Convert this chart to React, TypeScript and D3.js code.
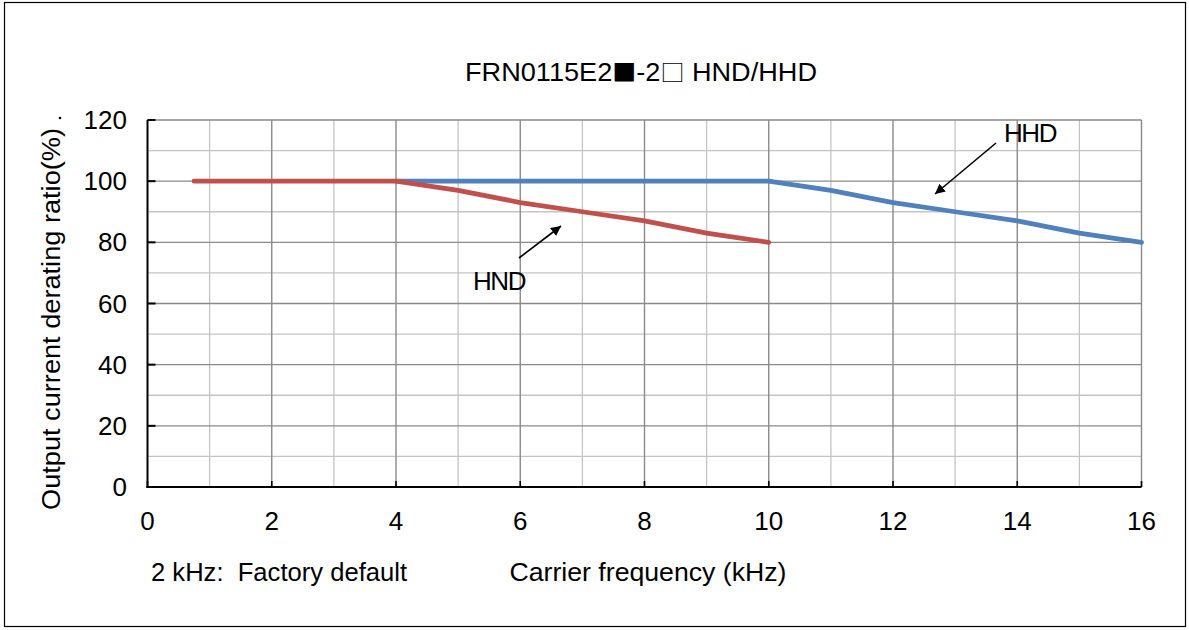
import React from "react";
import * as d3 from "d3";

const hndFreq = [0.75, 4, 5, 6, 7, 8, 9, 10];
const hndRatio = [100, 100, 97, 93, 90, 87, 83, 80];
const hhdFreq = [4, 10, 11, 12, 13, 14, 15, 16];
const hhdRatio = [100, 100, 97, 93, 90, 87, 83, 80];
const xTicks = [0, 2, 4, 6, 8, 10, 12, 14, 16];
const yTicks = [0, 20, 40, 60, 80, 100, 120];
const xMinor = [1, 3, 5, 7, 9, 11, 13, 15];
const yMinor = [10, 30, 50, 70, 90, 110];

const W = 1189;
const H = 630;
const FONT = "'Liberation Sans', Arial, sans-serif";
const CJK = "'Noto Sans CJK JP', sans-serif";
const FS = 26;

export default function App() {
  const x = d3.scaleLinear().domain([0, 16]).range([147.5, 1141.5]);
  const y = d3.scaleLinear().domain([0, 120]).range([487, 120]);
  const line = d3
    .line<[number, number]>()
    .x((d) => x(d[0]))
    .y((d) => y(d[1]));
  const hnd = hndFreq.map((f, i) => [f, hndRatio[i]] as [number, number]);
  const hhd = hhdFreq.map((f, i) => [f, hhdRatio[i]] as [number, number]);

  return (
    <svg
      width={W}
      height={H}
      style={{ position: "absolute", left: 0, top: 0, display: "block" }}
      fontFamily={FONT}
    >
      <defs>
        <marker
          id="ah"
          viewBox="0 0 10 10"
          refX="10"
          refY="5"
          markerWidth="10"
          markerHeight="10"
          markerUnits="userSpaceOnUse"
          orient="auto"
        >
          <path d="M0,0 L10,5 L0,10 z" fill="#000" />
        </marker>
      </defs>
      <rect x={0} y={0} width={W} height={H} fill="#fff" />
      <rect x={4.5} y={2.5} width={1181} height={624} fill="none" stroke="#000" strokeWidth={1.2} />

      <text x={641} y={81} fontSize={FS} textAnchor="middle" fill="#000" textLength={352} lengthAdjust="spacingAndGlyphs">
        FRN0115E2<tspan fontFamily={CJK} fontSize={23}>■</tspan>-2<tspan fontFamily={CJK} fontSize={23}>□</tspan> HND/HHD
      </text>

      {/* minor grid */}
      {xMinor.map((t) => (
        <line key={"xm" + t} x1={x(t)} x2={x(t)} y1={y(0)} y2={y(120)} stroke="#c4c4c4" strokeWidth={1.3} />
      ))}
      {yMinor.map((t) => (
        <line key={"ym" + t} x1={x(0)} x2={x(16)} y1={y(t)} y2={y(t)} stroke="#c4c4c4" strokeWidth={1.3} />
      ))}
      {/* major grid */}
      {xTicks.slice(1).map((t) => (
        <line key={"xM" + t} x1={x(t)} x2={x(t)} y1={y(0)} y2={y(120)} stroke="#8a8a8a" strokeWidth={1.4} />
      ))}
      {yTicks.slice(1).map((t) => (
        <line key={"yM" + t} x1={x(0)} x2={x(16)} y1={y(t)} y2={y(t)} stroke="#8a8a8a" strokeWidth={1.4} />
      ))}

      {/* axes */}
      <line x1={x(0)} x2={x(0)} y1={y(0) + 1} y2={y(120)} stroke="#000" strokeWidth={2} />
      <line x1={x(0) - 1} x2={x(16)} y1={y(0)} y2={y(0)} stroke="#000" strokeWidth={2} />
      {yTicks.map((t) => (
        <line key={"yt" + t} x1={x(0)} x2={x(0) + 8} y1={y(t)} y2={y(t)} stroke="#000" strokeWidth={2} />
      ))}
      {xTicks.map((t) => (
        <line key={"xt" + t} x1={x(t)} x2={x(t)} y1={y(0)} y2={y(0) - 6} stroke="#000" strokeWidth={1.6} />
      ))}

      {yTicks.map((t) => (
        <text key={"yl" + t} x={127} y={y(t) + 9} fontSize={FS} textAnchor="end" fill="#000">
          {t}
        </text>
      ))}
      {xTicks.map((t) => (
        <text key={"xl" + t} x={x(t)} y={530} fontSize={FS} textAnchor="middle" fill="#000">
          {t}
        </text>
      ))}

      <text
        transform={`translate(60,319) rotate(-90)`}
        fontSize={FS}
        textAnchor="middle"
        fill="#000"
        textLength={382}
        lengthAdjust="spacingAndGlyphs"
      >
        Output current derating ratio(%)
      </text>
      <circle cx={60} cy={118} r={1.3} fill="#000" />

      <text x={151} y={581} fontSize={FS} fill="#000" style={{ whiteSpace: "pre" }} textLength={256} lengthAdjust="spacingAndGlyphs">
        {"2 kHz:  Factory default"}
      </text>
      <text x={648} y={581} fontSize={FS} textAnchor="middle" fill="#000" textLength={277} lengthAdjust="spacingAndGlyphs">
        Carrier frequency (kHz)
      </text>

      <path d={line(hhd) || ""} fill="none" stroke="#4F81BD" strokeWidth={4.8} strokeLinecap="round" strokeLinejoin="round" />
      <path d={line(hnd) || ""} fill="none" stroke="#C0504D" strokeWidth={4.8} strokeLinecap="round" strokeLinejoin="round" />

      <line x1={519} y1={258} x2={561} y2={226} stroke="#000" strokeWidth={1.6} markerEnd="url(#ah)" />
      <text x={499} y={290} fontSize={FS} textAnchor="middle" fill="#000" letterSpacing={-1.5}>
        HND
      </text>
      <line x1={996} y1={143} x2={935} y2={194} stroke="#000" strokeWidth={1.6} markerEnd="url(#ah)" />
      <text x={1030} y={142} fontSize={FS} textAnchor="middle" fill="#000" letterSpacing={-1.5}>
        HHD
      </text>
    </svg>
  );
}
